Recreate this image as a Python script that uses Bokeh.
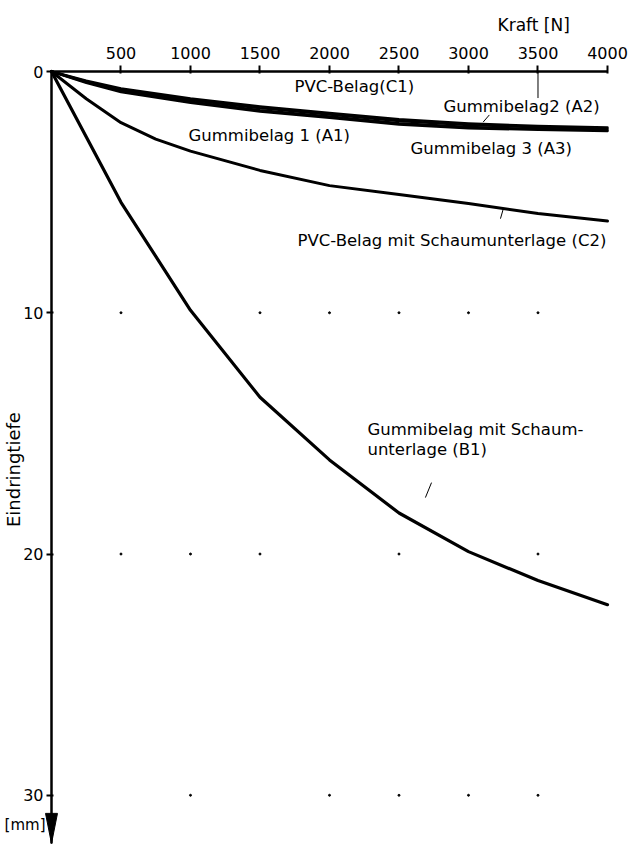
from bokeh.plotting import figure
from bokeh.models import Range1d, LinearAxis, FixedTicker, Label
from bokeh.embed import file_html
from bokeh.resources import INLINE

# Force (N) and penetration depth (mm) for each floor covering
kraft = [0, 250, 500, 1000, 1500, 2000, 2500, 3000, 3500, 4000]
c1_pvc = [0, 0.38, 0.70, 1.12, 1.45, 1.72, 1.98, 2.15, 2.26, 2.32]
a2_gummi2 = [0, 0.41, 0.75, 1.18, 1.52, 1.78, 2.05, 2.22, 2.31, 2.37]
a3_gummi3 = [0, 0.44, 0.80, 1.25, 1.60, 1.86, 2.14, 2.30, 2.38, 2.43]
a1_gummi1 = [0, 0.47, 0.85, 1.30, 1.66, 1.92, 2.20, 2.35, 2.42, 2.47]

kraft_c2 = [0, 250, 500, 750, 1000, 1500, 2000, 2500, 3000, 3500, 4000]
c2_pvc_schaum = [0, 1.13, 2.12, 2.80, 3.30, 4.10, 4.73, 5.10, 5.47, 5.89, 6.20]

kraft_b1 = [0, 500, 1000, 1500, 2000, 2500, 3000, 3500, 4000]
b1_gummi_schaum = [0, 5.42, 9.90, 13.50, 16.10, 18.30, 19.90, 21.10, 22.10]

x_ticks = [500, 1000, 1500, 2000, 2500, 3000, 3500, 4000]
y_ticks = [0, 10, 20, 30]

# reference dots of the drawing grid
grid_x = [500, 1500, 2000, 2500, 3000, 3500,
          500, 1000, 1500, 2500, 3500,
          1000, 2000, 2500, 3000, 3500]
grid_y = [10, 10, 10, 10, 10, 10,
          20, 20, 20, 20, 20,
          30, 30, 30, 30, 30]

X_MAX = 4000
Y_MAX = 32

FONT = "DejaVu Sans"
FS = "16px"
FS_CURVE = "16.5px"

# The frame fills the whole page; both axes sit at the origin inside it.
p = figure(width=628, height=844, output_backend="svg", toolbar_location=None,
           x_range=Range1d(-366.9, 4151.1), y_range=Range1d(32.04, -2.943),
           x_axis_location=None, y_axis_location=None,
           min_border=0)
p.outline_line_color = None
p.xgrid.visible = False
p.ygrid.visible = False
p.background_fill_color = "white"
p.border_fill_color = "white"

# force axis on top
xa = LinearAxis(ticker=FixedTicker(ticks=x_ticks), fixed_location=0,
                bounds=(0, X_MAX))
xa.axis_line_width = 2.5
xa.major_tick_line_width = 2
xa.major_tick_out = 6
xa.major_tick_in = 2
xa.minor_tick_line_color = None
xa.major_label_standoff = 7
xa.major_label_text_font = FONT
xa.major_label_text_font_size = FS
xa.major_label_text_color = "black"
p.add_layout(xa, "above")

# depth axis on the left, pointing downward
ya = LinearAxis(ticker=FixedTicker(ticks=y_ticks), fixed_location=0,
                bounds=(0, Y_MAX))
ya.axis_line_width = 2.5
ya.major_tick_line_width = 2
ya.major_tick_out = 5
ya.major_tick_in = 2
ya.minor_tick_line_color = None
ya.major_label_standoff = 3
ya.major_label_text_font = FONT
ya.major_label_text_font_size = FS
ya.major_label_text_color = "black"
p.add_layout(ya, "left")

# arrow head at the end of the depth axis
head_len = 1.25
head_half = 43
p.patch([-head_half, 0, head_half], [Y_MAX - head_len, Y_MAX, Y_MAX - head_len],
        color="black")

p.scatter(grid_x, grid_y, size=2, color="black")

for xs, series, lw in [(kraft, c1_pvc, 2.4), (kraft, a2_gummi2, 2.4),
                       (kraft, a3_gummi3, 2.4), (kraft, a1_gummi1, 2.4),
                       (kraft_c2, c2_pvc_schaum, 3.0),
                       (kraft_b1, b1_gummi_schaum, 3.2)]:
    p.line(xs, series, line_color="black", line_width=lw,
           line_join="round", line_cap="round")

# leader strokes and fragments of the construction lines
p.segment(x0=[3105, 3230, 2690, 3500], y0=[2.1, 6.1, 17.66, 0],
          x1=[3150, 3250, 2734, 3500], y1=[1.8, 5.7, 17.04, 1.1],
          line_color="black", line_width=1)


def lab(x, y, text, size=FS, align="left", angle=0.0):
    p.add_layout(Label(x=x, y=y, text=text, text_font=FONT,
                       text_font_size=size, text_color="black",
                       text_align=align, text_baseline="middle",
                       angle=angle))


lab(1748, 0.62, "PVC-Belag(C1)", FS_CURVE)
lab(2820, 1.45, "Gummibelag2 (A2)", FS_CURVE)
lab(986, 2.65, "Gummibelag 1 (A1)", FS_CURVE)
lab(2583, 3.20, "Gummibelag 3 (A3)", FS_CURVE)
lab(1770, 7.00, "PVC-Belag mit Schaumunterlage (C2)", FS_CURVE)
lab(2273, 14.84, "Gummibelag mit Schaum-", FS_CURVE)
lab(2273, 15.67, "unterlage (B1)", FS_CURVE)

lab(3209, -1.91, "Kraft [N]", "17px")
lab(-273, 16.5, "Eindringtiefe", "18px", align="center", angle=1.5708)
lab(-43, 31.25, "[mm]", "15px", align="right")

open("out.html", "w").write(file_html(p, INLINE))
